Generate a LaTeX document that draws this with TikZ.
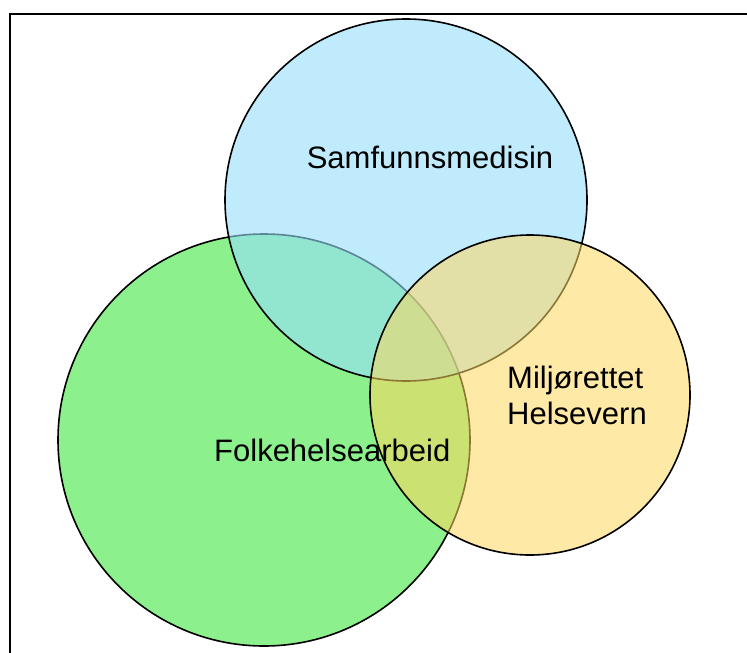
\documentclass[tikz,border=0pt]{standalone}
\usepackage{fontspec}
\setmainfont{Liberation Sans}
\definecolor{gfill}{RGB}{140,240,140}
\definecolor{bfill}{RGB}{150,222,250}
\definecolor{yfill}{RGB}{255,215,95}
\begin{document}
\begin{tikzpicture}[x=1pt,y=-1pt,
  venn/.style={draw=black,line width=1.6pt},
  lbl/.style={font=\fontsize{31}{36}\selectfont,inner sep=0pt}]
\useasboundingbox (0,0) rectangle (747,653);
\draw[line width=2.6pt] (10,653) -- (10,14) -- (747,14);
\path[venn,fill=gfill] (264,440) circle[radius=206];
\path[venn,fill=bfill,fill opacity=0.6] (406,200) circle[radius=181];
\path[venn,fill=yfill,fill opacity=0.55] (530,395) circle[radius=160];
\node[lbl] (samf) at (430,157) {Samfunnsmedisin};
\node[lbl,anchor=west] (folk) at (214,450) {Folkehelsearbeid};
\node[lbl,align=left,anchor=west] (milj) at (507,395) {Miljørettet\\Helsevern};
\end{tikzpicture}
\end{document}
